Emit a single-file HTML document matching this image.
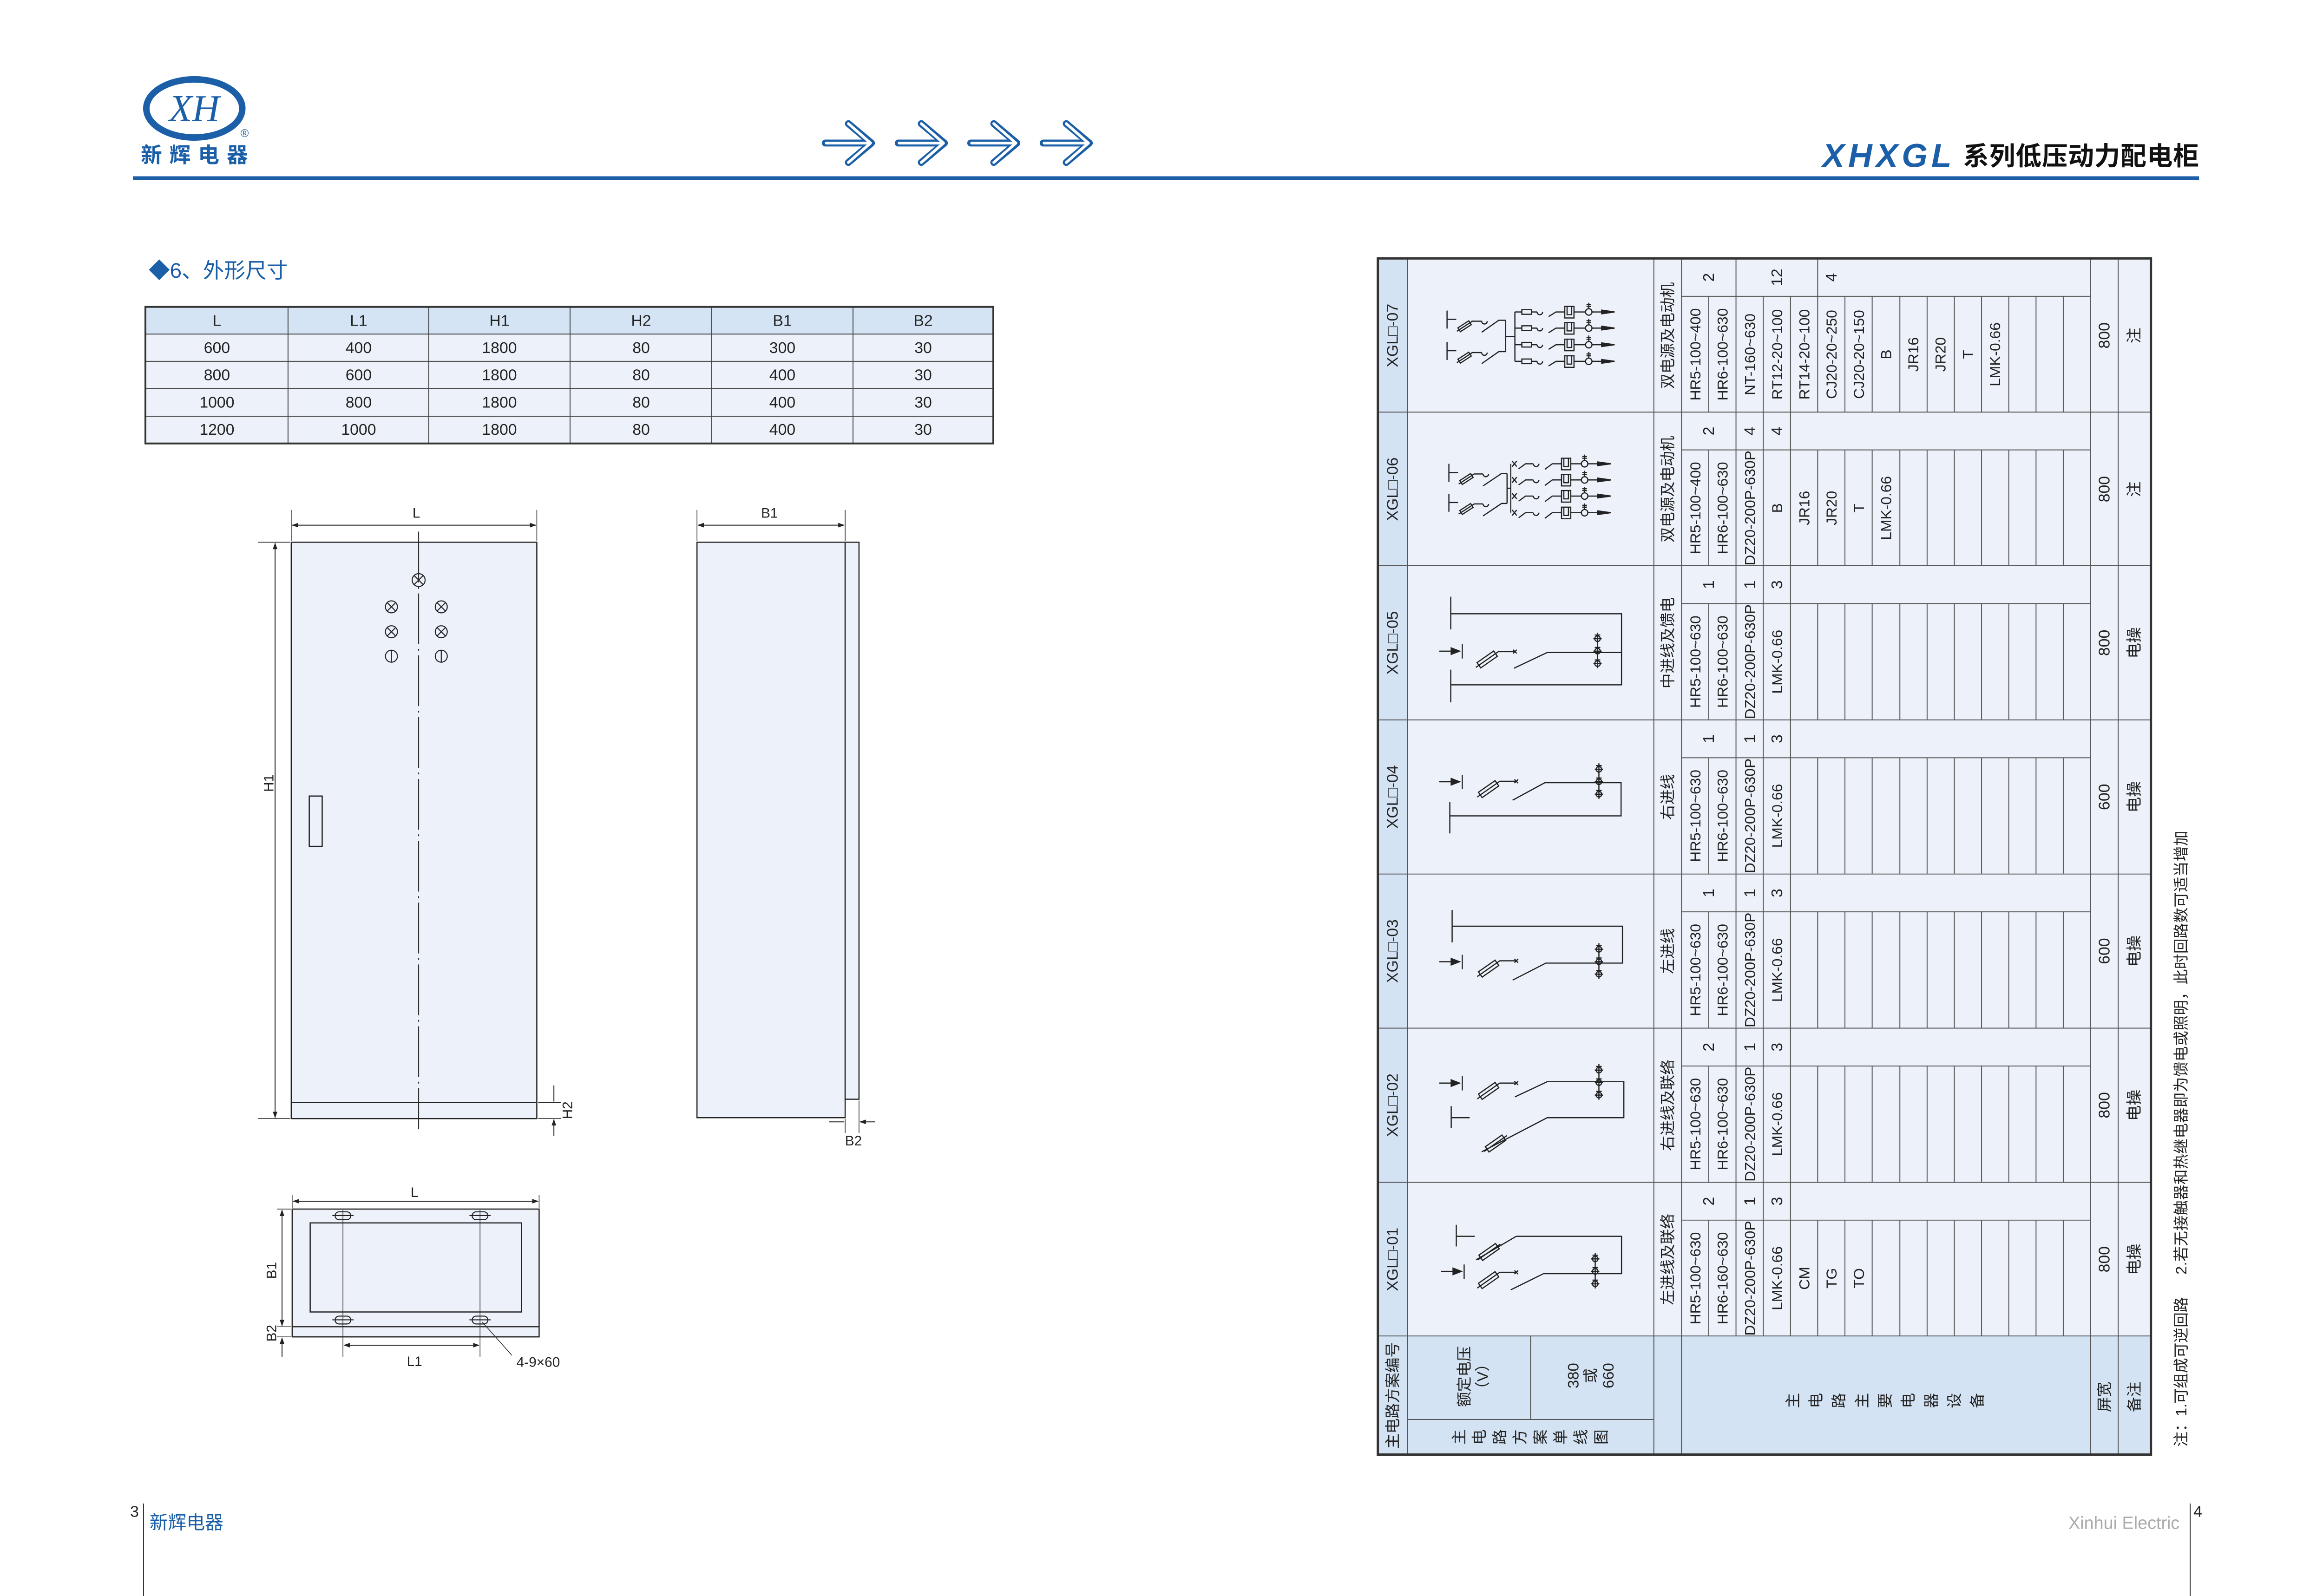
<!DOCTYPE html>
<html><head><meta charset="utf-8"><style>
html,body{margin:0;padding:0;background:#fff}
svg{display:block}
text{font-family:"Liberation Sans","Noto Sans CJK SC",sans-serif;fill:#222}
.r{dominant-baseline:central;text-anchor:middle}
.it{font-size:32px}
.ct{font-size:34px}
.ln{stroke:#222;stroke-width:2.5;fill:none}
.g{stroke:#555;stroke-width:2;fill:none}
</style></head><body>
<svg width="5031" height="3436" viewBox="0 0 5031 3436" xmlns="http://www.w3.org/2000/svg">
<defs>
<marker id="ah" markerWidth="14" markerHeight="10" refX="13" refY="5" orient="auto-start-reverse" markerUnits="userSpaceOnUse"><path d="M0,0L14,5L0,10z" fill="#222"/></marker>
<g id="rowgrid" class="g">
<path d="M3643,82H4529 M3702,82V333 M3761,82V333 M3820,82V333 M3879,82V333 M3938,82V333 M3997,82V333 M4056,82V333 M4116,82V333 M4175,82V333 M4234,82V333 M4293,82V333 M4352,82V333 M4411,82V333 M4470,82V333"/>
</g>
<g id="br7" class="ln"><path d="M0,0H15M36,0H48M48,0a6,6 0 0 0 12,0M73,10L89,0H108M113,-12V6H123V-12M128,0H153M167,0H190M160,-7V-20M155,-12H165M155,-16H165"/><rect x="15" y="-5" width="21" height="10"/><rect x="108" y="-12" width="20" height="25"/><circle cx="160" cy="0" r="7"/><polygon points="188,-4 216,0 188,4" fill="#222"/></g>
<g id="br6" class="ln"><path d="M3,-6L13,6M3,6L13,-6M17,11L32,0H49M49,0a6,6 0 0 0 12,0M74,12L90,0H110M115,-12V6H125V-12M130,0H153M167,0H190M160,-7V-20M155,-12H165M155,-16H165"/><rect x="110" y="-12" width="20" height="25"/><circle cx="160" cy="0" r="7"/><polygon points="188,-4 217,0 188,4" fill="#222"/></g>
<g id="fs" class="ln" transform="rotate(-33)"><rect x="-14" y="-5" width="28" height="10"/><path d="M-20,0H20"/></g>
<g id="fb" class="ln"><g transform="rotate(-35)"><rect x="-22" y="-7" width="44" height="14"/><path d="M-30,0H30"/></g></g>
<g id="fz" class="ln"><use href="#fb"/><path d="M24,-17H60M56,-21L64,-13M56,-13L64,-21"/></g>
<g id="arr" class="ln"><path d="M-50,0H-22M0,-15V16"/><polygon points="-24,-7 -6,0 -24,7" fill="#222"/></g>
<g id="ct" class="ln"><path d="M0,-40V37M-9,-27H9M-9,0H9M-9,27H9M-6,-35H6M-6,-8H6M-6,19H6"/><circle cx="0" cy="-27" r="6"/><circle cx="0" cy="0" r="6"/><circle cx="0" cy="27" r="6"/></g>
<g id="d07"><path class="ln" d="M3135,113V152M3135,132H3155M3188,136H3210M3210,136a6,6 0 0 0 12,0M3210,160L3247,134H3262M3135,181V220M3135,200H3155M3188,204H3210M3210,204a6,6 0 0 0 12,0M3210,228L3247,202H3262M3262,134V202M3262,169H3282M3282,116V223"/><use href="#fs" x="3173" y="147"/><use href="#fs" x="3173" y="215"/><use href="#br7" x="3282" y="116"/><use href="#br7" x="3282" y="151"/><use href="#br7" x="3282" y="187"/><use href="#br7" x="3282" y="223"/></g>
<g id="d06"><path class="ln" d="M3139,112V151M3139,131H3159M3193,134H3213M3213,134a6,6 0 0 0 12,0M3213,160L3253,133H3265M3139,177V216M3139,196H3159M3193,199H3213M3213,199a6,6 0 0 0 12,0M3213,225L3253,198H3265M3265,133V198M3265,165H3273M3273,112V218"/><use href="#fs" x="3177" y="145"/><use href="#fs" x="3177" y="210"/><use href="#br6" x="3273" y="112"/><use href="#br6" x="3273" y="147"/><use href="#br6" x="3273" y="182"/><use href="#br6" x="3273" y="218"/></g>
<g id="d05"><path class="ln" d="M3143,67V138M3143,104H3513V258H3143M3143,225V296M3352,188H3513M3352,188L3280,222"/><use href="#arr" x="3168" y="185"/><use href="#fz" x="3222" y="203"/><use href="#ct" x="3461" y="185"/></g>
<g id="d04"><path class="ln" d="M3141,178V246M3141,208H3512V136H3347L3277,174"/><use href="#arr" x="3168" y="134"/><use href="#fz" x="3225" y="150"/><use href="#ct" x="3464" y="134"/></g>
<g id="d03"><path class="ln" d="M3146,78V148M3146,113H3515V193H3349L3277,230"/><use href="#arr" x="3168" y="190"/><use href="#fz" x="3225" y="205"/><use href="#ct" x="3464" y="190"/></g>
<g id="d02"><path class="ln" d="M3282,149L3352,116H3518V194H3352L3210,268M3144,169V216M3144,194H3184"/><use href="#arr" x="3168" y="119"/><use href="#fz" x="3225" y="136"/><use href="#fb" x="3240" y="250"/><use href="#ct" x="3464" y="118"/></g>
<g id="d01"><path class="ln" d="M3155,92V139M3155,117H3195M3285,117L3198,168M3285,117H3513V198H3344L3273,233"/><use href="#fb" x="3226" y="151"/><use href="#arr" x="3172" y="193"/><use href="#fz" x="3225" y="212"/><use href="#ct" x="3456" y="193"/></g>
</defs>
<g transform="scale(0.9935)">
<!-- HEADER -->
<ellipse cx="421" cy="235" rx="104" ry="63" fill="#fff" stroke="#1a5fa8" stroke-width="14"/>
<text x="421" y="262" text-anchor="middle" style="font-family:'Liberation Serif',serif;font-style:italic;font-size:82px;fill:#1a5fa8">XH</text>
<text x="530" y="297" text-anchor="middle" style="font-size:24px;fill:#1a5fa8">®</text>
<text x="305" y="352" textLength="232" style="font-size:46px;font-weight:bold;fill:#1a5fa8">新辉电器</text>
<rect x="288" y="382" width="4476" height="8" fill="#1f5fa8"/>
<g fill="none" stroke-linecap="round" stroke-linejoin="round">
<g stroke="#1a5fa8" stroke-width="15"><path d="M1788,310H1885M1838,268L1888,310L1838,352"/><path d="M1946,310H2043M1996,268L2046,310L1996,352"/><path d="M2103,310H2200M2153,268L2203,310L2153,352"/><path d="M2260,310H2357M2310,268L2360,310L2310,352"/></g>
<g stroke="#fff" stroke-width="6"><path d="M1790,310H1883M1838,268L1886,310L1838,352"/><path d="M1948,310H2041M1996,268L2044,310L1996,352"/><path d="M2105,310H2198M2153,268L2201,310L2153,352"/><path d="M2262,310H2355M2310,268L2358,310L2310,352"/></g>
</g>
<text x="3948" y="362" textLength="280" style="font-size:72px;font-weight:bold;font-style:italic;fill:#1a5fa8">XHXGL</text>
<text x="4253" y="358" textLength="511" style="font-size:56px;font-weight:bold;fill:#111">系列低压动力配电柜</text>

<!-- SECTION -->
<text x="322" y="602" style="font-size:46px;fill:#1a5fa8">◆6、外形尺寸</text>

<!-- DIM TABLE -->
<rect x="315" y="665" width="1837" height="59" fill="#d4e4f5"/>
<rect x="315" y="724" width="1837" height="237" fill="#edf2fa"/>
<g stroke="#444" stroke-width="2" fill="none">
<path d="M315,724H2152M315,783H2152M315,842H2152M315,902H2152M624,665V961M929,665V961M1235,665V961M1542,665V961M1848,665V961"/>
<rect x="315" y="665" width="1837" height="296" stroke-width="4" stroke="#333"/>
</g>
<g style="font-size:34px" class="r">
<text class="r" x="470" y="695">L</text><text class="r" x="777" y="695">L1</text><text class="r" x="1082" y="695">H1</text><text class="r" x="1389" y="695">H2</text><text class="r" x="1695" y="695">B1</text><text class="r" x="2000" y="695">B2</text>
<text class="r" x="470" y="754">600</text><text class="r" x="777" y="754">400</text><text class="r" x="1082" y="754">1800</text><text class="r" x="1389" y="754">80</text><text class="r" x="1695" y="754">300</text><text class="r" x="2000" y="754">30</text>
<text class="r" x="470" y="813">800</text><text class="r" x="777" y="813">600</text><text class="r" x="1082" y="813">1800</text><text class="r" x="1389" y="813">80</text><text class="r" x="1695" y="813">400</text><text class="r" x="2000" y="813">30</text>
<text class="r" x="470" y="872">1000</text><text class="r" x="777" y="872">800</text><text class="r" x="1082" y="872">1800</text><text class="r" x="1389" y="872">80</text><text class="r" x="1695" y="872">400</text><text class="r" x="2000" y="872">30</text>
<text class="r" x="470" y="931">1200</text><text class="r" x="777" y="931">1000</text><text class="r" x="1082" y="931">1800</text><text class="r" x="1389" y="931">80</text><text class="r" x="1695" y="931">400</text><text class="r" x="2000" y="931">30</text>
</g>

<!-- FRONT VIEW -->
<g stroke="#222" stroke-width="2.5" fill="none">
<rect x="631" y="1175" width="532" height="1249" fill="#ecf1fa"/>
<path d="M631,2389H1163"/>
<path d="M907,1152V2447" stroke-width="2" stroke-dasharray="110,10,4,10"/>
<path d="M631,1105V1172M1163,1105V1172M559,1175H628M559,2424H628M1166,2389H1215M1166,2424H1215" stroke-width="1.5"/>
<path d="M633,1138H1161" stroke-width="2" marker-start="url(#ah)" marker-end="url(#ah)"/>
<path d="M596,1177V2422" stroke-width="2" marker-start="url(#ah)" marker-end="url(#ah)"/>
<path d="M1200,2352V2387M1200,2461V2426" stroke-width="2" marker-end="url(#ah)"/>
<rect x="670" y="1725" width="28" height="109"/>
<g stroke-width="2.2">
<circle cx="907" cy="1257" r="14"/><path d="M897,1247L917,1267M897,1267L917,1247"/>
<circle cx="848" cy="1315" r="13"/><path d="M839,1306L857,1324M839,1324L857,1306"/>
<circle cx="956" cy="1315" r="13"/><path d="M947,1306L965,1324M947,1324L965,1306"/>
<circle cx="848" cy="1369" r="13"/><path d="M839,1360L857,1378M839,1378L857,1360"/>
<circle cx="956" cy="1369" r="13"/><path d="M947,1360L965,1378M947,1378L965,1360"/>
<circle cx="848" cy="1422" r="13"/><path d="M848,1409V1435"/>
<circle cx="956" cy="1422" r="13"/><path d="M956,1409V1435"/>
</g>
</g>
<text x="902" y="1122" text-anchor="middle" style="font-size:30px">L</text>
<text transform="translate(583,1697) rotate(-90)" class="r" style="font-size:30px">H1</text>
<text transform="translate(1230,2406) rotate(-90)" class="r" style="font-size:30px">H2</text>

<!-- SIDE VIEW -->
<g stroke="#222" stroke-width="2.5" fill="none">
<rect x="1510" y="1175" width="321" height="1247" fill="#ecf1fa"/>
<rect x="1831" y="1175" width="30" height="1207" fill="#ecf1fa"/>
<path d="M1510,1105V1172M1831,1105V1172M1831,2425V2455M1861,2385V2455" stroke-width="1.5"/>
<path d="M1512,1138H1829" stroke-width="2" marker-start="url(#ah)" marker-end="url(#ah)"/>
<path d="M1796,2431H1829M1896,2431H1863" stroke-width="2" marker-end="url(#ah)"/>
</g>
<text x="1667" y="1122" text-anchor="middle" style="font-size:30px">B1</text>
<text x="1849" y="2482" text-anchor="middle" style="font-size:30px">B2</text>

<!-- PLAN VIEW -->
<g stroke="#222" stroke-width="2.5" fill="none">
<rect x="633" y="2620" width="535" height="277" fill="#ecf1fa"/>
<path d="M633,2875H1168"/>
<rect x="672" y="2650" width="458" height="193"/>
<path d="M633,2590V2618M1168,2590V2618M600,2620H631M600,2875H631M600,2897H631M743,2622V2940M1040,2622V2940" stroke-width="1.5"/>
<path d="M635,2603H1166" stroke-width="2" marker-start="url(#ah)" marker-end="url(#ah)"/>
<path d="M611,2622V2873" stroke-width="2" marker-start="url(#ah)" marker-end="url(#ah)"/>
<path d="M611,2940V2899" stroke-width="2" marker-end="url(#ah)"/>
<path d="M745,2915H1038" stroke-width="2" marker-start="url(#ah)" marker-end="url(#ah)"/>
<path d="M1045,2865L1109,2937" stroke-width="1.5"/>
<g stroke-width="2.2">
<rect x="726" y="2626" width="34" height="17" rx="8.5"/><path d="M720,2634H766"/>
<rect x="1023" y="2626" width="34" height="17" rx="8.5"/><path d="M1017,2634H1063"/>
<rect x="726" y="2852" width="34" height="17" rx="8.5"/><path d="M720,2860H766"/>
<rect x="1023" y="2852" width="34" height="17" rx="8.5"/><path d="M1017,2860H1063"/>
</g>
</g>
<text x="898" y="2594" text-anchor="middle" style="font-size:30px">L</text>
<text x="898" y="2960" text-anchor="middle" style="font-size:30px">L1</text>
<text x="1119" y="2962" style="font-size:30px">4-9×60</text>
<text transform="translate(589,2753) rotate(-90)" class="r" style="font-size:30px">B1</text>
<text transform="translate(589,2889) rotate(-90)" class="r" style="font-size:30px">B2</text>

<!-- RIGHT TABLE -->
<rect x="2985" y="560" width="1675" height="2592" fill="#edf2fa"/>
<rect x="2985" y="560" width="64" height="2592" fill="#d3e3f3"/>
<rect x="2985" y="2895" width="1675" height="257" fill="#d3e3f3"/>
<use href="#rowgrid" y="560"/><use href="#rowgrid" y="893"/><use href="#rowgrid" y="1226"/><use href="#rowgrid" y="1560"/><use href="#rowgrid" y="1894"/><use href="#rowgrid" y="2228"/><use href="#rowgrid" y="2562"/>
<g class="g">
<path d="M2985,893H4660M2985,1226H4660M2985,1560H4660M2985,1894H4660M2985,2228H4660M2985,2562H4660M2985,2895H4660"/>
<path d="M3049,560V3152M3583,560V3152M3643,560V3152M4529,560V3152M4589,560V3152M3316,2895V3076M3049,3076H3583"/>
<path d="M3761,560V642M3938,560V642"/>
<path d="M3761,893V975M3820,893V975M3879,893V975"/>
<path d="M3761,1226V1308M3820,1226V1308M3879,1226V1308"/>
<path d="M3761,1560V1642M3820,1560V1642M3879,1560V1642"/>
<path d="M3761,1894V1976M3820,1894V1976M3879,1894V1976"/>
<path d="M3761,2228V2310M3820,2228V2310M3879,2228V2310"/>
<path d="M3761,2562V2644M3820,2562V2644M3879,2562V2644"/>
</g>
<rect x="2985" y="560" width="1675" height="2592" fill="none" stroke="#333" stroke-width="5"/>

<use href="#d07" y="560"/><use href="#d06" y="893"/><use href="#d05" y="1226"/><use href="#d04" y="1560"/><use href="#d03" y="1894"/><use href="#d02" y="2228"/><use href="#d01" y="2562"/>

<g class="ct">
<text class="r" transform="translate(3017,727) rotate(-90)">XGL□-07</text>
<text class="r" transform="translate(3017,1060) rotate(-90)">XGL□-06</text>
<text class="r" transform="translate(3017,1393) rotate(-90)">XGL□-05</text>
<text class="r" transform="translate(3017,1727) rotate(-90)">XGL□-04</text>
<text class="r" transform="translate(3017,2061) rotate(-90)">XGL□-03</text>
<text class="r" transform="translate(3017,2395) rotate(-90)">XGL□-02</text>
<text class="r" transform="translate(3017,2729) rotate(-90)">XGL□-01</text>
</g>
<g style="font-size:33px">
<text class="r" transform="translate(3613,727) rotate(-90)">双电源及电动机</text>
<text class="r" transform="translate(3613,1060) rotate(-90)">双电源及电动机</text>
<text class="r" transform="translate(3613,1393) rotate(-90)">中进线及馈电</text>
<text class="r" transform="translate(3613,1727) rotate(-90)">右进线</text>
<text class="r" transform="translate(3613,2061) rotate(-90)">左进线</text>
<text class="r" transform="translate(3613,2395) rotate(-90)">右进线及联络</text>
<text class="r" transform="translate(3613,2729) rotate(-90)">左进线及联络</text>
</g>
<g class="ct">
<text class="r" transform="translate(3702,601) rotate(-90)">2</text><text class="r" transform="translate(3850,601) rotate(-90)">12</text><text class="r" transform="translate(3968,601) rotate(-90)">4</text>
<text class="r" transform="translate(3702,934) rotate(-90)">2</text><text class="r" transform="translate(3791,934) rotate(-90)">4</text><text class="r" transform="translate(3850,934) rotate(-90)">4</text>
<text class="r" transform="translate(3702,1267) rotate(-90)">1</text><text class="r" transform="translate(3791,1267) rotate(-90)">1</text><text class="r" transform="translate(3850,1267) rotate(-90)">3</text>
<text class="r" transform="translate(3702,1601) rotate(-90)">1</text><text class="r" transform="translate(3791,1601) rotate(-90)">1</text><text class="r" transform="translate(3850,1601) rotate(-90)">3</text>
<text class="r" transform="translate(3702,1935) rotate(-90)">1</text><text class="r" transform="translate(3791,1935) rotate(-90)">1</text><text class="r" transform="translate(3850,1935) rotate(-90)">3</text>
<text class="r" transform="translate(3702,2269) rotate(-90)">2</text><text class="r" transform="translate(3791,2269) rotate(-90)">1</text><text class="r" transform="translate(3850,2269) rotate(-90)">3</text>
<text class="r" transform="translate(3702,2603) rotate(-90)">2</text><text class="r" transform="translate(3791,2603) rotate(-90)">1</text><text class="r" transform="translate(3850,2603) rotate(-90)">3</text>
</g>
<g class="it">
<text class="r" transform="translate(3673,768) rotate(-90)">HR5-100~400</text>
<text class="r" transform="translate(3732,768) rotate(-90)">HR6-100~630</text>
<text class="r" transform="translate(3791,768) rotate(-90)">NT-160~630</text>
<text class="r" transform="translate(3850,768) rotate(-90)">RT12-20~100</text>
<text class="r" transform="translate(3909,768) rotate(-90)">RT14-20~100</text>
<text class="r" transform="translate(3968,768) rotate(-90)">CJ20-20~250</text>
<text class="r" transform="translate(4027,768) rotate(-90)">CJ20-20~150</text>
<text class="r" transform="translate(4086,768) rotate(-90)">B</text>
<text class="r" transform="translate(4145,768) rotate(-90)">JR16</text>
<text class="r" transform="translate(4204,768) rotate(-90)">JR20</text>
<text class="r" transform="translate(4263,768) rotate(-90)">T</text>
<text class="r" transform="translate(4322,768) rotate(-90)">LMK-0.66</text>

<text class="r" transform="translate(3673,1101) rotate(-90)">HR5-100~400</text>
<text class="r" transform="translate(3732,1101) rotate(-90)">HR6-100~630</text>
<text class="r" transform="translate(3791,1101) rotate(-90)">DZ20-200P-630P</text>
<text class="r" transform="translate(3850,1101) rotate(-90)">B</text>
<text class="r" transform="translate(3909,1101) rotate(-90)">JR16</text>
<text class="r" transform="translate(3968,1101) rotate(-90)">JR20</text>
<text class="r" transform="translate(4027,1101) rotate(-90)">T</text>
<text class="r" transform="translate(4086,1101) rotate(-90)">LMK-0.66</text>

<text class="r" transform="translate(3673,1434) rotate(-90)">HR5-100~630</text>
<text class="r" transform="translate(3732,1434) rotate(-90)">HR6-100~630</text>
<text class="r" transform="translate(3791,1434) rotate(-90)">DZ20-200P-630P</text>
<text class="r" transform="translate(3850,1434) rotate(-90)">LMK-0.66</text>

<text class="r" transform="translate(3673,1768) rotate(-90)">HR5-100~630</text>
<text class="r" transform="translate(3732,1768) rotate(-90)">HR6-100~630</text>
<text class="r" transform="translate(3791,1768) rotate(-90)">DZ20-200P-630P</text>
<text class="r" transform="translate(3850,1768) rotate(-90)">LMK-0.66</text>

<text class="r" transform="translate(3673,2102) rotate(-90)">HR5-100~630</text>
<text class="r" transform="translate(3732,2102) rotate(-90)">HR6-100~630</text>
<text class="r" transform="translate(3791,2102) rotate(-90)">DZ20-200P-630P</text>
<text class="r" transform="translate(3850,2102) rotate(-90)">LMK-0.66</text>

<text class="r" transform="translate(3673,2436) rotate(-90)">HR5-100~630</text>
<text class="r" transform="translate(3732,2436) rotate(-90)">HR6-100~630</text>
<text class="r" transform="translate(3791,2436) rotate(-90)">DZ20-200P-630P</text>
<text class="r" transform="translate(3850,2436) rotate(-90)">LMK-0.66</text>

<text class="r" transform="translate(3673,2770) rotate(-90)">HR5-100~630</text>
<text class="r" transform="translate(3732,2770) rotate(-90)">HR6-160~630</text>
<text class="r" transform="translate(3791,2770) rotate(-90)">DZ20-200P-630P</text>
<text class="r" transform="translate(3850,2770) rotate(-90)">LMK-0.66</text>
<text class="r" transform="translate(3909,2770) rotate(-90)">CM</text>
<text class="r" transform="translate(3968,2770) rotate(-90)">TG</text>
<text class="r" transform="translate(4027,2770) rotate(-90)">TO</text>
</g>
<g class="ct">
<text class="r" transform="translate(4559,727) rotate(-90)">800</text>
<text class="r" transform="translate(4559,1060) rotate(-90)">800</text>
<text class="r" transform="translate(4559,1393) rotate(-90)">800</text>
<text class="r" transform="translate(4559,1727) rotate(-90)">600</text>
<text class="r" transform="translate(4559,2061) rotate(-90)">600</text>
<text class="r" transform="translate(4559,2395) rotate(-90)">800</text>
<text class="r" transform="translate(4559,2729) rotate(-90)">800</text>
<text class="r" transform="translate(4624,727) rotate(-90)">注</text>
<text class="r" transform="translate(4624,1060) rotate(-90)">注</text>
<text class="r" transform="translate(4624,1393) rotate(-90)">电操</text>
<text class="r" transform="translate(4624,1727) rotate(-90)">电操</text>
<text class="r" transform="translate(4624,2061) rotate(-90)">电操</text>
<text class="r" transform="translate(4624,2395) rotate(-90)">电操</text>
<text class="r" transform="translate(4624,2729) rotate(-90)">电操</text>
</g>
<g style="font-size:33px">
<text class="r" transform="translate(3017,3024) rotate(-90)">主电路方案编号</text>
<text class="r" transform="translate(3172,2983) rotate(-90)">额定电压</text>
<text class="r" transform="translate(3212,2983) rotate(-90)">（V）</text>
<text class="r" transform="translate(3408,2981) rotate(-90)">380</text>
<text class="r" transform="translate(3446,2981) rotate(-90)">或</text>
<text class="r" transform="translate(3484,2981) rotate(-90)">660</text>
<text class="r" transform="translate(3161,3114) rotate(-90)">主</text>
<text class="r" transform="translate(3205,3114) rotate(-90)">电</text>
<text class="r" transform="translate(3249,3114) rotate(-90)">路</text>
<text class="r" transform="translate(3293,3114) rotate(-90)">方</text>
<text class="r" transform="translate(3337,3114) rotate(-90)">案</text>
<text class="r" transform="translate(3381,3114) rotate(-90)">单</text>
<text class="r" transform="translate(3425,3114) rotate(-90)">线</text>
<text class="r" transform="translate(3469,3114) rotate(-90)">图</text>
<text class="r" transform="translate(3884,3035) rotate(-90)">主</text>
<text class="r" transform="translate(3934,3035) rotate(-90)">电</text>
<text class="r" transform="translate(3984,3035) rotate(-90)">路</text>
<text class="r" transform="translate(4034,3035) rotate(-90)">主</text>
<text class="r" transform="translate(4084,3035) rotate(-90)">要</text>
<text class="r" transform="translate(4134,3035) rotate(-90)">电</text>
<text class="r" transform="translate(4184,3035) rotate(-90)">器</text>
<text class="r" transform="translate(4234,3035) rotate(-90)">设</text>
<text class="r" transform="translate(4284,3035) rotate(-90)">备</text>
<text class="r" transform="translate(4559,3027) rotate(-90)">屏宽</text>
<text class="r" transform="translate(4624,3027) rotate(-90)">备注</text>
</g>
<g style="font-size:33px">
<text transform="translate(4725,3135) rotate(-90)" style="dominant-baseline:central">注：1.可组成可逆回路</text>
<text transform="translate(4725,2762) rotate(-90)" style="dominant-baseline:central" textLength="962">2.若无接触器和热继电器即为馈电或照明，此时回路数可适当增加</text>
</g>

<!-- FOOTER -->
<path d="M311,3258V3460M4745,3258V3460" stroke="#333" stroke-width="2"/>
<text x="282" y="3287" style="font-size:34px">3</text>
<text x="324" y="3313" style="font-size:40px;fill:#1a5fa8">新辉电器</text>
<text x="4722" y="3313" text-anchor="end" style="font-size:38px;fill:#aaa">Xinhui Electric</text>
<text x="4752" y="3287" style="font-size:34px">4</text>
</g>
</svg>
</body></html>
